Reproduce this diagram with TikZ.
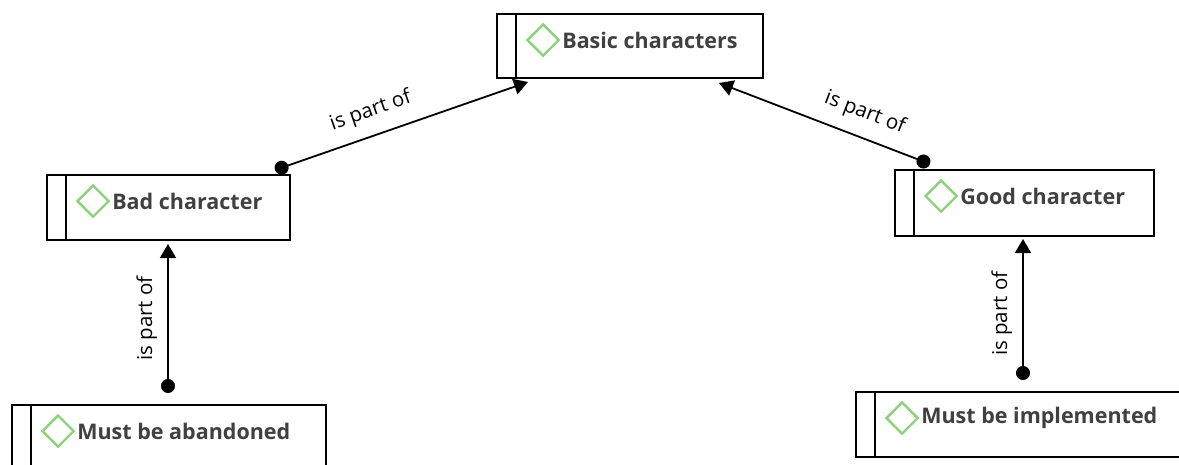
\documentclass[tikz,border=0pt]{standalone}
\usepackage{fontspec}
\setmainfont{Open Sans}
\usetikzlibrary{arrows.meta,calc}
\definecolor{txt}{HTML}{404040}
\definecolor{dia}{HTML}{8ED17E}
\tikzset{
  x=1pt, y=-1pt,
  box/.style={draw=black, line width=1.8pt, rectangle, inner sep=0pt},
  lbl/.style={font=\bfseries\fontsize{21.5}{24}\selectfont, text=txt, anchor=west, inner sep=0pt},
  rel/.style={font=\fontsize{20.5}{23}\selectfont, text=black, inner sep=1pt},
  icon/.style={draw=dia, line width=2.4pt, shape=rectangle, minimum size=22pt, rotate=45, inner sep=0pt},
  conn/.style={line width=1.8pt, {Circle[length=14pt,width=14pt]}-{Triangle[length=14pt,width=16pt]}},
}
\newcommand{\concept}[6]{%
  % name, x1, y1, x2, y2, text
  \node[box, minimum width={#4-#2}, minimum height={#5-#3}] (#1) at ({(#2+#4)/2},{(#3+#5)/2}) {};
  \draw[line width=1.8pt] ($(#1.north west)+(20,0)$) -- ($(#1.south west)+(20,0)$);
  \node[icon] (#1-icon) at ($(#1.north west)+(47,27)$) {};
  \node[lbl] (#1-text) at ($(#1.north west)+(66,27)$) {#6};
}
\begin{document}
\begin{tikzpicture}
\useasboundingbox (0,0) rectangle (1179,464);
\begin{scope}
\clip (0,0) rectangle (1179,464);
\concept{basic}{497}{14}{763}{78}{Basic characters}
\concept{bad}{47}{175}{290}{240}{Bad character}
\concept{good}{895}{170}{1154}{236}{Good character}
\concept{aband}{12}{405}{326}{480}{Must be abandoned}
\concept{impl}{856}{392}{1195}{457}{Must be implemented}
\end{scope}
\coordinate (c1s) at (275,170);
\coordinate (c1e) at (528,82);
\coordinate (c2s) at (930,164);
\coordinate (c2e) at (719,83);
\coordinate (c3s) at (168,393);
\coordinate (c3e) at (168,244);
\coordinate (c4s) at (1023,380);
\coordinate (c4e) at (1023,239);
\draw[conn] (c1s) -- node[rel, sloped, above=12pt, pos=0.41] {is part of} (c1e);
\draw[conn] (c2s) -- node[rel, sloped, above=12pt, pos=0.35] {is part of} (c2e);
\draw[conn] (c3s) -- node[rel, sloped, above=9pt, pos=0.5] {is part of} (c3e);
\draw[conn] (c4s) -- node[rel, sloped, above=9pt, pos=0.47] {is part of} (c4e);
\end{tikzpicture}
\end{document}
